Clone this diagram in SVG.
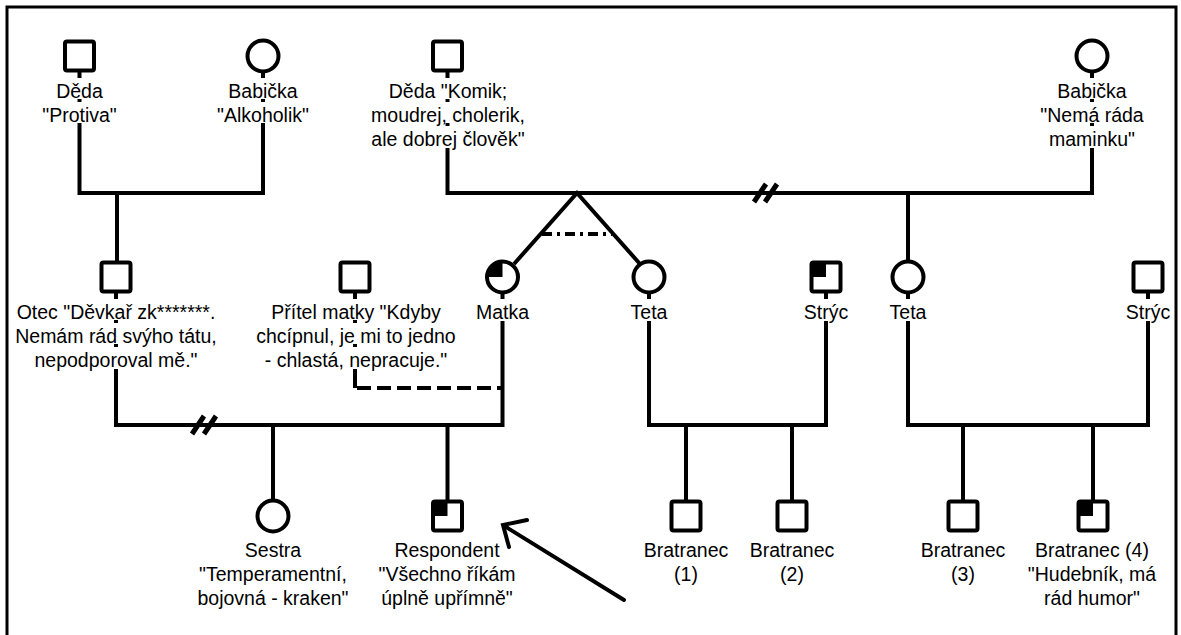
<svg xmlns="http://www.w3.org/2000/svg" width="1181" height="635" viewBox="0 0 1181 635">
  <style>
    .ln { stroke: #000; stroke-width: 4; fill: none; stroke-linejoin: miter; }
    .dash { stroke: #000; stroke-width: 4; fill: none; stroke-dasharray: 14 6; }
    .dashdot { stroke: #000; stroke-width: 4; fill: none; stroke-dasharray: 10 5 3 5; }
    .brk { stroke: #000; stroke-width: 5; stroke-linecap: butt; }
    .sym { fill: #fff; stroke: #000; stroke-width: 4; }
    .fill { fill: #000; }
    .gap { fill: #fff; }
    text { font-family: "Liberation Sans", Arial, sans-serif; font-size: 19.5px; fill: #000; text-anchor: middle; }
  </style>

  <rect x="0" y="0" width="1181" height="635" fill="#fff"/>
  <rect x="7" y="7" width="1169" height="700" fill="none" stroke="#000" stroke-width="3"/>

  <!-- connectors: couple lines, descent lines, twin fork, separations, arrow -->
  <g id="connectors">
    <!-- paternal grandparents and their son -->
    <path class="ln" d="M79.5 72 V193 H263 V72"/>
    <path class="ln" d="M117 193 V262"/>
    <!-- maternal grandparents (separated) and their daughters -->
    <path class="ln" d="M447.5 72 V193 H1092 V72"/>
    <line class="brk" x1="754" y1="202" x2="766" y2="184"/>
    <line class="brk" x1="765" y1="202" x2="777" y2="184"/>
    <path class="ln" d="M514 264 L577 193 L640 264"/>
    <line class="dashdot" x1="542" y1="234" x2="612" y2="234"/>
    <path class="ln" d="M908 193 V262"/>
    <!-- parents (separated) and their children -->
    <path class="ln" d="M116 293 V425 H502.5 V293"/>
    <line class="brk" x1="192" y1="434" x2="204" y2="416"/>
    <line class="brk" x1="204" y1="434" x2="216" y2="416"/>
    <path class="ln" d="M273 425 V501"/>
    <path class="ln" d="M447.5 425 V501"/>
    <!-- mother's partner -->
    <path class="ln" d="M355 293 V388"/>
    <path class="dash" d="M357 388 H502"/>
    <!-- aunt and uncle with sons -->
    <path class="ln" d="M649 293 V425 H826 V293"/>
    <path class="ln" d="M686 425 V501"/>
    <path class="ln" d="M792 425 V501"/>
    <path class="ln" d="M908 293 V425 H1148 V293"/>
    <path class="ln" d="M963 425 V501"/>
    <path class="ln" d="M1093 425 V501"/>
    <!-- pointer to the respondent -->
    <line class="ln" x1="624" y1="600" x2="506" y2="527" stroke-linecap="round"/>
    <polyline class="ln" points="527,520 503,525 509,547" stroke-linecap="round" stroke-linejoin="round"/>
  </g>

  <g id="deda-otec">
    <rect class="sym" x="65" y="41.5" width="29" height="29" rx="2"/>
    <rect class="gap" x="73" y="78" width="13" height="21"/>
    <rect class="gap" x="73" y="102" width="13" height="21"/>
    <text x="79.5" y="98">Děda</text>
    <text x="79.5" y="122">"Protiva"</text>
  </g>

  <g id="babicka-otec">
    <circle class="sym" cx="263" cy="56" r="15.5"/>
    <rect class="gap" x="256" y="78" width="14" height="21"/>
    <rect class="gap" x="256" y="102" width="14" height="21"/>
    <text x="263" y="98">Babička</text>
    <text x="263" y="122">"Alkoholik"</text>
  </g>

  <g id="deda-matka">
    <rect class="sym" x="433" y="41.5" width="29" height="29" rx="2"/>
    <rect class="gap" x="441" y="78" width="13" height="21"/>
    <rect class="gap" x="441" y="102" width="13" height="21"/>
    <rect class="gap" x="441" y="126" width="13" height="22"/>
    <text x="448" y="98">Děda "Komik;</text>
    <text x="448" y="122">moudrej, cholerik,</text>
    <text x="448" y="146">ale dobrej člověk"</text>
  </g>

  <g id="babicka-matka">
    <circle class="sym" cx="1092" cy="56" r="15.5"/>
    <rect class="gap" x="1085" y="78" width="14" height="21"/>
    <rect class="gap" x="1085" y="102" width="14" height="21"/>
    <rect class="gap" x="1085" y="126" width="14" height="22"/>
    <text x="1092" y="98">Babička</text>
    <text x="1092" y="122">"Nemá ráda</text>
    <text x="1092" y="146">maminku"</text>
  </g>

  <g id="otec">
    <rect class="sym" x="101.5" y="262.5" width="29" height="29" rx="2"/>
    <rect class="gap" x="109" y="299" width="14" height="21"/>
    <rect class="gap" x="109" y="323" width="14" height="21"/>
    <rect class="gap" x="109" y="347" width="14" height="22"/>
    <text x="116" y="319">Otec "Děvkař zk*******.</text>
    <text x="116" y="343">Nemám rád svýho tátu,</text>
    <text x="116" y="367">nepodporoval mě."</text>
  </g>

  <g id="pritel-matky">
    <rect class="sym" x="340.5" y="262.5" width="29" height="29" rx="2"/>
    <rect class="gap" x="348" y="299" width="14" height="21"/>
    <rect class="gap" x="348" y="323" width="14" height="21"/>
    <rect class="gap" x="348" y="347" width="14" height="22"/>
    <text x="356" y="319">Přítel matky "Kdyby</text>
    <text x="356" y="343">chcípnul, je mi to jedno</text>
    <text x="356" y="367">- chlastá, nepracuje."</text>
  </g>

  <g id="matka">
    <circle class="sym" cx="502.5" cy="277" r="15.5"/>
    <path class="fill" d="M502.5 277 V261.5 A15.5 15.5 0 0 0 487 277 Z"/>
    <rect class="gap" x="495" y="299" width="15" height="22"/>
    <text x="502.5" y="319">Matka</text>
  </g>

  <g id="teta-1">
    <circle class="sym" cx="649" cy="277" r="15.5"/>
    <rect class="gap" x="642" y="299" width="14" height="22"/>
    <text x="649" y="319">Teta</text>
  </g>

  <g id="stryc-1">
    <rect class="sym" x="811.5" y="262.5" width="29" height="29" rx="2"/>
    <rect class="fill" x="811.5" y="262.5" width="14.5" height="14.5"/>
    <rect class="gap" x="819" y="299" width="14" height="22"/>
    <text x="826" y="319">Strýc</text>
  </g>

  <g id="teta-2">
    <circle class="sym" cx="908" cy="277" r="15.5"/>
    <rect class="gap" x="901" y="299" width="14" height="22"/>
    <text x="908" y="319">Teta</text>
  </g>

  <g id="stryc-2">
    <rect class="sym" x="1133.5" y="262.5" width="29" height="29" rx="2"/>
    <rect class="gap" x="1141" y="299" width="14" height="22"/>
    <text x="1148" y="319">Strýc</text>
  </g>

  <g id="sestra">
    <circle class="sym" cx="273" cy="516" r="15.5"/>
    <text x="273" y="557">Sestra</text>
    <text x="273" y="581">"Temperamentní,</text>
    <text x="273" y="605">bojovná - kraken"</text>
  </g>

  <g id="respondent">
    <rect class="sym" x="433" y="501.5" width="29" height="29" rx="2"/>
    <rect class="fill" x="433" y="501.5" width="14.5" height="14.5"/>
    <text x="447" y="557">Respondent</text>
    <text x="447" y="581">"Všechno říkám</text>
    <text x="447" y="605">úplně upřímně"</text>
  </g>

  <g id="bratranec-1">
    <rect class="sym" x="671.5" y="501.5" width="29" height="29" rx="2"/>
    <text x="686" y="557">Bratranec</text>
    <text x="686" y="581">(1)</text>
  </g>

  <g id="bratranec-2">
    <rect class="sym" x="777.5" y="501.5" width="29" height="29" rx="2"/>
    <text x="792" y="557">Bratranec</text>
    <text x="792" y="581">(2)</text>
  </g>

  <g id="bratranec-3">
    <rect class="sym" x="948.5" y="501.5" width="29" height="29" rx="2"/>
    <text x="963" y="557">Bratranec</text>
    <text x="963" y="581">(3)</text>
  </g>

  <g id="bratranec-4">
    <rect class="sym" x="1078.5" y="501.5" width="29" height="29" rx="2"/>
    <rect class="fill" x="1078.5" y="501.5" width="14.5" height="14.5"/>
    <text x="1092" y="557">Bratranec (4)</text>
    <text x="1092" y="581">"Hudebník, má</text>
    <text x="1092" y="605">rád humor"</text>
  </g>
</svg>
